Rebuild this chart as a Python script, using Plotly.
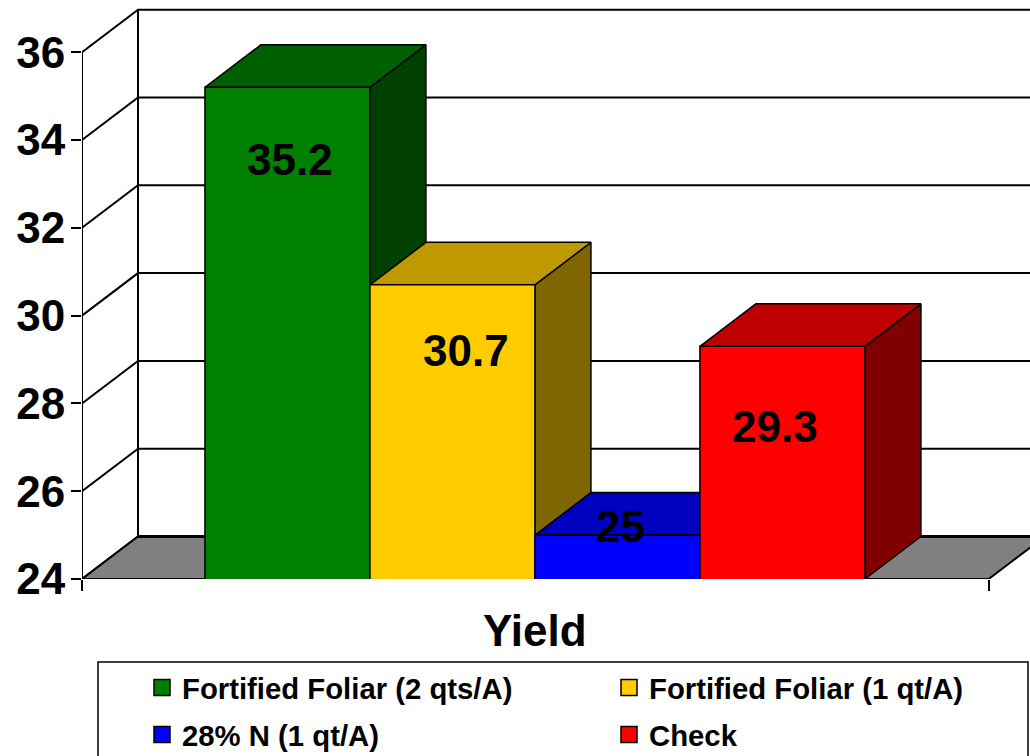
"""
Yield by treatment - 3D-look column chart built from flat Plotly traces
"""

import plotly.graph_objects as go

series_names = ['Fortified Foliar (2 qts/A)', 'Fortified Foliar (1 qt/A)', '28% N (1 qt/A)', 'Check']
yield_values = [35.2, 30.7, 25, 29.3]
value_labels = ['35.2', '30.7', '25', '29.3']
y_ticks = [24, 26, 28, 30, 32, 34, 36]
category = 'Yield'

front_colors = ['#008000', '#FFCC00', '#0000FF', '#FF0000']
top_colors = ['#006000', '#BF9900', '#0000BF', '#BF0000']
side_colors = ['#004000', '#806600', '#000080', '#800000']
floor_color = '#808080'

FONT = 'Liberation Sans, Arial, sans-serif'
W, H = 1030, 756
LEFT, BASE_PX = 82, 579      # pixel position of the plot's left edge and of y=24
BAR_PX = 165                 # one column wide, in pixels
PX_PER_UNIT = 43.9
Y_MIN = y_ticks[0]
Y_MAX = Y_MIN + BASE_PX / PX_PER_UNIT
X_MIN = -1.245
X_MAX = X_MIN + (W - LEFT) / BAR_PX
FLOOR_RIGHT = 4.25

# Oblique offset of the back wall, in axis units
DX = 56 / BAR_PX
DY = 42.5 / PX_PER_UNIT

# Label offsets from the column top, as placed in the original chart
label_shift_x = [3, 14, 3, -7]
label_shift_y = [-72, -66, 9, -80]


def polygon(xs, ys, color, width=1.5):
    return go.Scatter(
        x=xs + xs[:1], y=ys + ys[:1], mode='lines', fill='toself', fillcolor=color,
        line=dict(color='black', width=width), hoverinfo='skip',
        showlegend=False, cliponaxis=False
    )


def line_trace(xs, ys, width=2):
    return go.Scatter(
        x=xs, y=ys, mode='lines', line=dict(color='black', width=width),
        hoverinfo='skip', showlegend=False, cliponaxis=False
    )


fig = go.Figure()

# Back wall: one slanted plus one horizontal line per tick
grid_x, grid_y = [], []
for tick in y_ticks:
    grid_x += [X_MIN, X_MIN + DX, X_MAX, None]
    grid_y += [tick, tick + DY, tick + DY, None]
fig.add_trace(line_trace(grid_x, grid_y))
fig.add_trace(line_trace([X_MIN + DX, X_MIN + DX], [Y_MIN + DY, y_ticks[-1] + DY]))

# Floor
fig.add_trace(polygon(
    [X_MIN, FLOOR_RIGHT, FLOOR_RIGHT + DX, X_MIN + DX],
    [Y_MIN, Y_MIN, Y_MIN + DY, Y_MIN + DY], floor_color, 2
))
fig.add_trace(line_trace([X_MIN + DX, X_MAX], [Y_MIN + DY, Y_MIN + DY], 3))

# Side and top faces of each column
for i, value in enumerate(yield_values):
    right = i + 0.5
    fig.add_trace(polygon(
        [right, right + DX, right + DX, right],
        [value, value + DY, Y_MIN + DY, Y_MIN], side_colors[i]
    ))
    fig.add_trace(polygon(
        [i - 0.5, right, right + DX, i - 0.5 + DX],
        [value, value, value + DY, value + DY], top_colors[i]
    ))

# Axis lines
fig.add_trace(line_trace([X_MIN, X_MIN], [Y_MIN, y_ticks[-1]]))
fig.add_trace(line_trace([X_MIN, FLOOR_RIGHT], [Y_MIN, Y_MIN]))

# Front faces sit on an overlaid axis pair so they cover the faces behind them
for i, value in enumerate(yield_values):
    fig.add_trace(go.Bar(
        x=[i], y=[value], width=1, marker=dict(color=front_colors[i], line=dict(color='black', width=1.5)),
        xaxis='x2', yaxis='y2', showlegend=False, name=series_names[i]
    ))

# Legend entries, one legend per slot so the swatches line up in two columns
legend_slots = ['legend', 'legend2', 'legend3', 'legend4']
for i, name in enumerate(series_names):
    fig.add_trace(go.Scatter(
        x=[None], y=[None], mode='markers', name=name, legend=legend_slots[i],
        marker=dict(symbol='square', size=16, color=front_colors[i], line=dict(color='black', width=1.5))
    ))

for i, label in enumerate(value_labels):
    fig.add_annotation(
        x=i, y=yield_values[i], xref='x', yref='y', text=f'<b>{label}</b>', showarrow=False,
        xshift=label_shift_x[i], yshift=label_shift_y[i],
        font=dict(family=FONT, size=44, color='black')
    )

fig.add_annotation(
    x=(X_MIN + FLOOR_RIGHT) / 2, y=0, xref='x', yref='paper', yanchor='middle', yshift=-51,
    text=f'<b>{category}</b>', showarrow=False, font=dict(family=FONT, size=44, color='black')
)

# Legend frame runs off the bottom of the page
fig.add_shape(
    type='rect', xref='paper', yref='paper',
    x0=(98 - LEFT) / (W - LEFT), x1=(1028 - LEFT) / (W - LEFT),
    y0=(BASE_PX - 790) / BASE_PX, y1=(BASE_PX - 662) / BASE_PX,
    line=dict(color='black', width=1.5), fillcolor='white', layer='below'
)

legend_style = dict(
    xref='container', yref='container', xanchor='left', yanchor='middle',
    font=dict(family=FONT, size=29.3, color='black', weight='bold'),
    bgcolor='rgba(0,0,0,0)', borderwidth=0, itemsizing='trace', itemclick=False
)
slot_x = [142, 609, 142, 609]
slot_y = [688, 688, 735, 735]
legends = {
    slot: dict(legend_style, x=slot_x[i] / W, y=1 - slot_y[i] / H)
    for i, slot in enumerate(legend_slots)
}

axis_common = dict(showgrid=False, zeroline=False)
fig.update_layout(
    width=W, height=H, autosize=False, barmode='overlay',
    margin=dict(l=LEFT, r=0, t=0, b=H - BASE_PX, autoexpand=False),
    paper_bgcolor='white', plot_bgcolor='white', showlegend=True,
    font=dict(family=FONT, color='black'),
    xaxis=dict(
        axis_common, range=[X_MIN, X_MAX], tickmode='array', tickvals=[X_MIN, FLOOR_RIGHT],
        ticktext=['', ''], ticks='outside', ticklen=11, tickwidth=1.5, tickcolor='black'
    ),
    yaxis=dict(
        axis_common, range=[Y_MIN, Y_MAX], tickmode='array', tickvals=y_ticks,
        ticks='outside', ticklen=10, tickwidth=1.5, tickcolor='black', ticklabelstandoff=-3,
        tickfont=dict(family=FONT, size=44, color='black', weight='bold')
    ),
    xaxis2=dict(axis_common, range=[X_MIN, X_MAX], overlaying='x', visible=False),
    yaxis2=dict(axis_common, range=[Y_MIN, Y_MAX], overlaying='y', visible=False),
    **legends
)

# Drop the default body margin so the figure fills the window
fig.write_html(
    "out.html",
    config=dict(displayModeBar=False),
    post_script="document.body.style.margin = '0';"
)
